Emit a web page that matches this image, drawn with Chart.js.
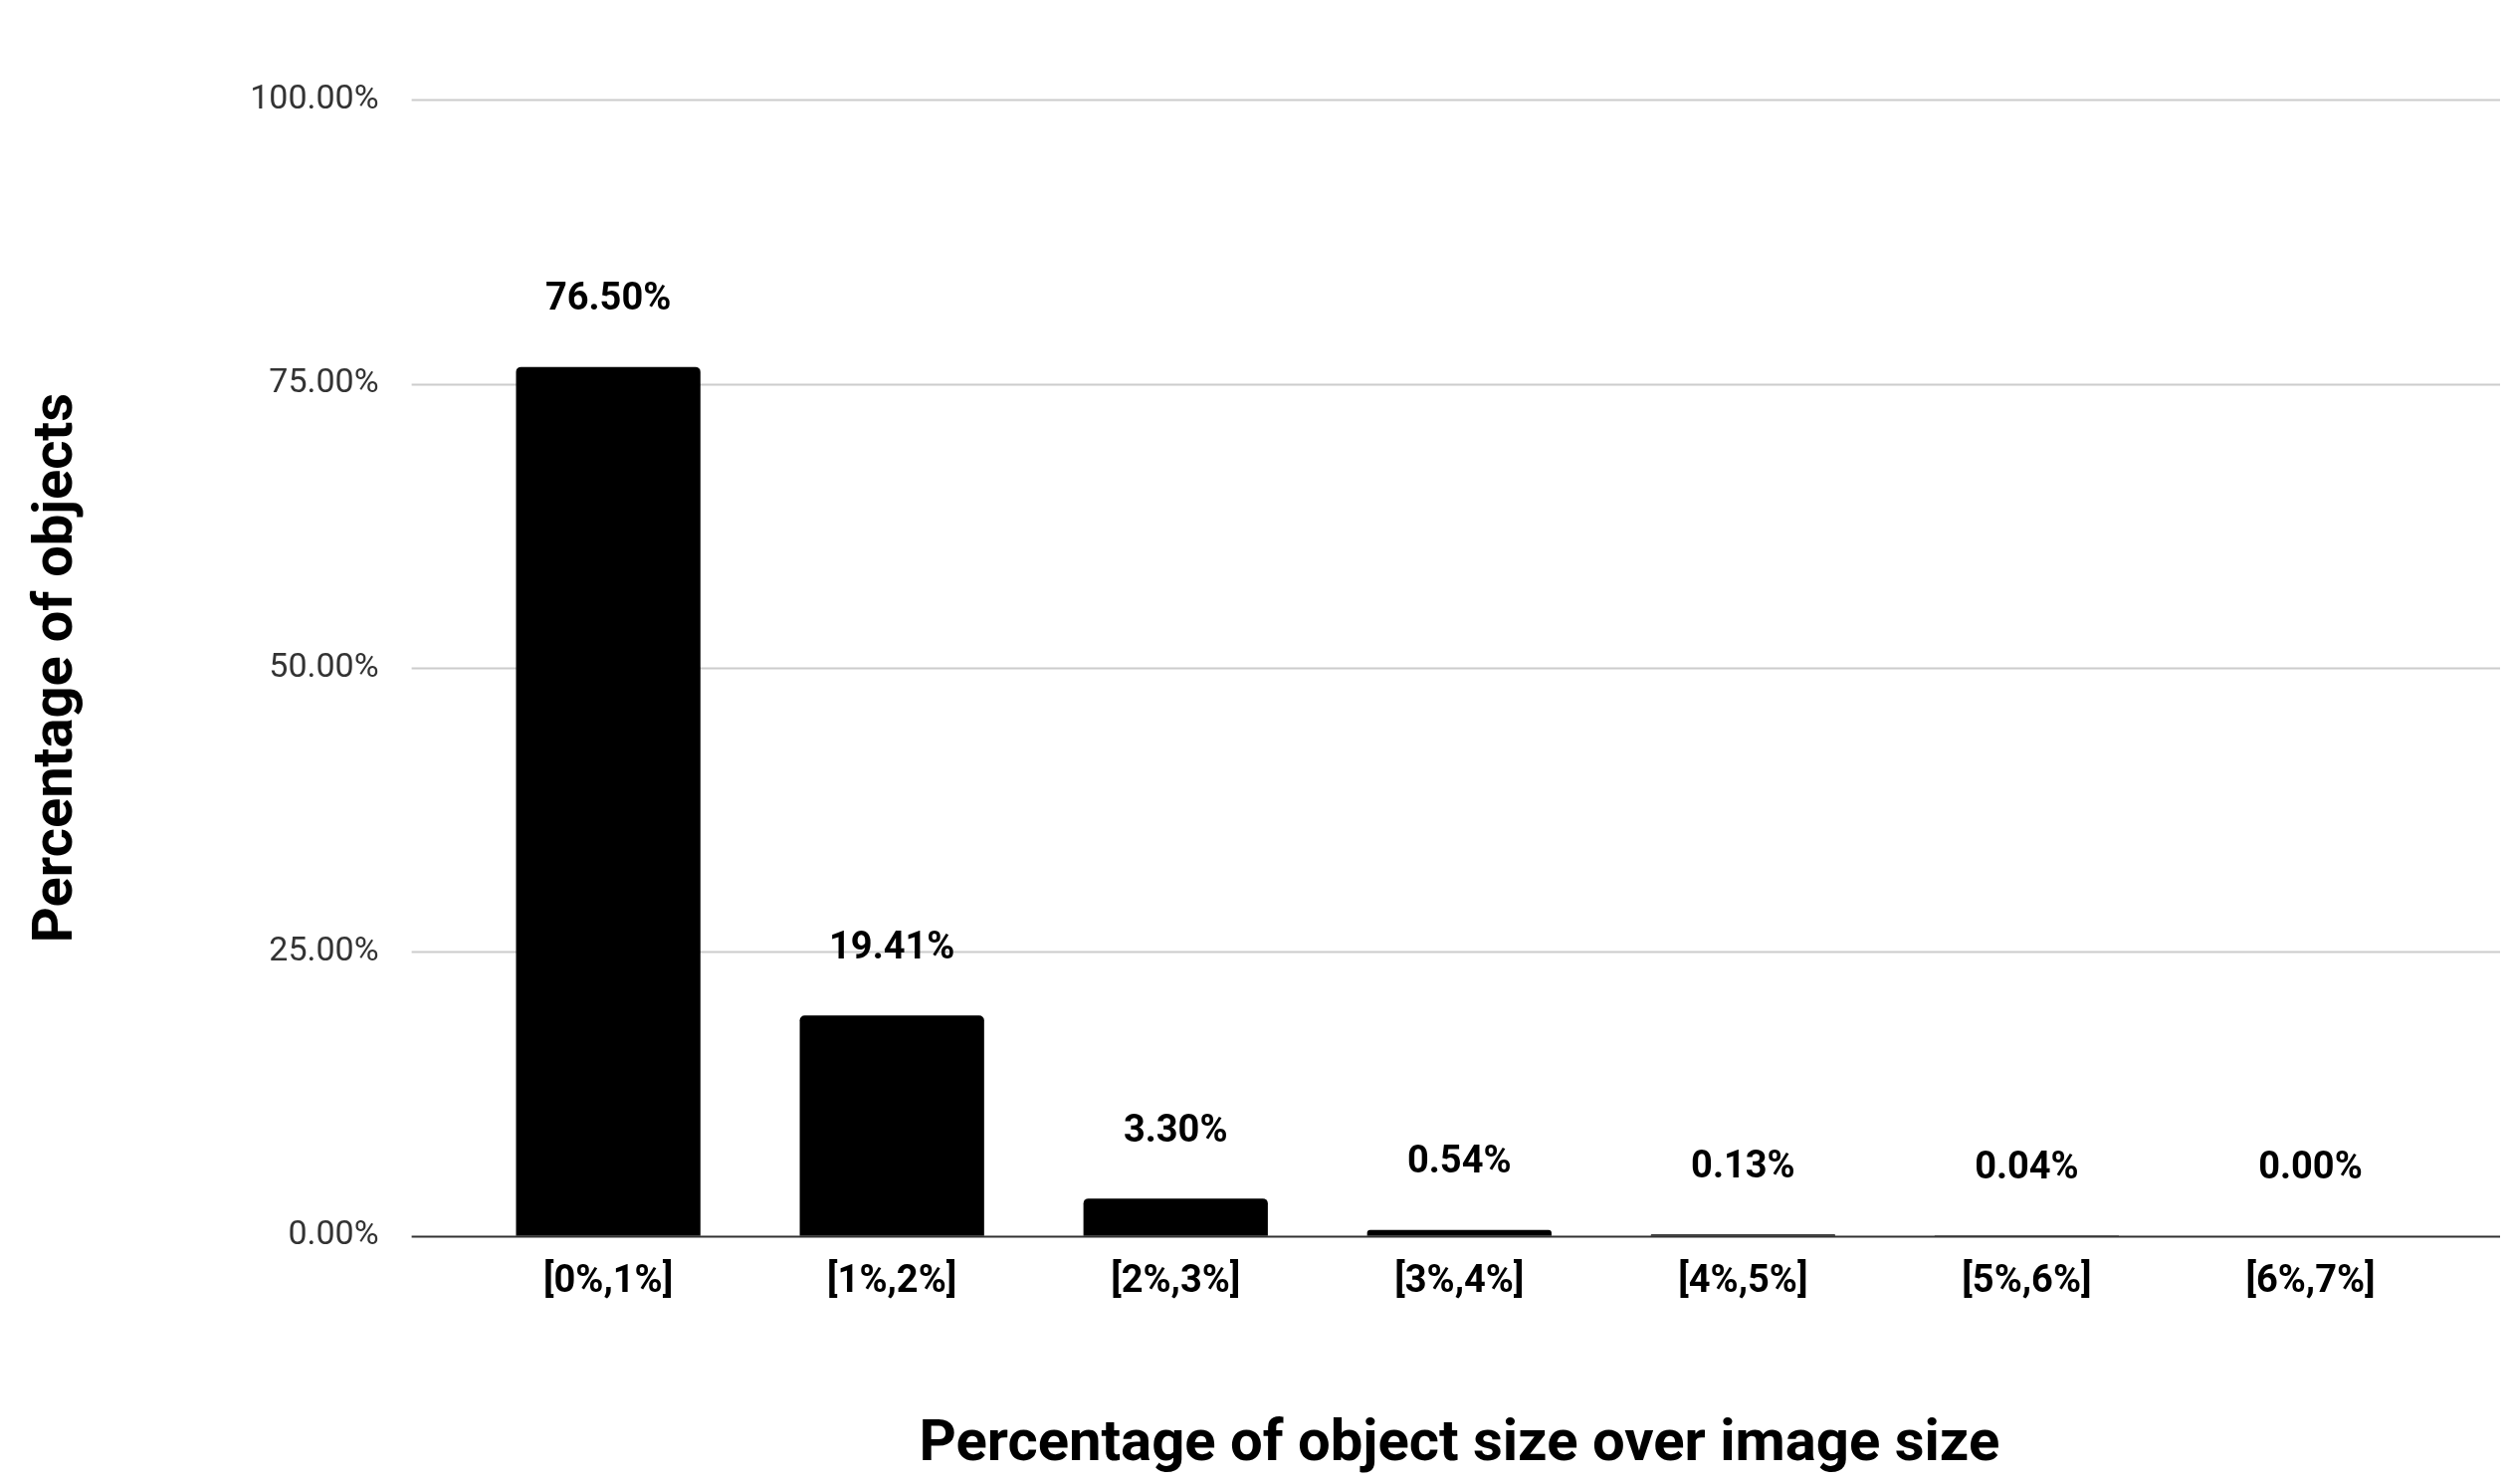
<!DOCTYPE html>
<html>
<head>
<script src="https://cdn.jsdelivr.net/npm/chart.js"></script>
<style>
  body { margin: 0; background: #fff; }
  #wrap { width: 2524px; height: 1491px; }
</style>
</head>
<body>
<div id="wrap"><canvas id="myChart"></canvas></div>
<script>
var categories = ['[0%,1%]', '[1%,2%]', '[2%,3%]', '[3%,4%]', '[4%,5%]', '[5%,6%]', '[6%,7%]'];
var values = [76.50, 19.41, 3.30, 0.54, 0.13, 0.04, 0.00];
var yTicks = [0, 25, 50, 75, 100];

// gridlines run a bit past the category area on both sides
var wideGrid = {
  id: 'wideGrid',
  beforeDatasetsDraw: function(chart) {
    var ctx = chart.ctx, a = chart.chartArea, y = chart.scales.y;
    ctx.save();
    yTicks.forEach(function(v) {
      var py = Math.round(y.getPixelForValue(v)) + 0.5;
      ctx.beginPath();
      ctx.strokeStyle = v === 0 ? '#333' : '#cccccc';
      ctx.lineWidth = 2;
      ctx.moveTo(a.left - 55, py);
      ctx.lineTo(a.right + 48, py);
      ctx.stroke();
    });
    ctx.restore();
  }
};

// value labels above each bar
var barLabels = {
  id: 'barLabels',
  afterDatasetsDraw: function(chart) {
    var ctx = chart.ctx;
    var meta = chart.getDatasetMeta(0);
    ctx.save();
    ctx.font = 'bold 38px Roboto';
    ctx.fillStyle = '#000';
    ctx.textAlign = 'center';
    ctx.textBaseline = 'bottom';
    meta.data.forEach(function(bar, i) {
      ctx.fillText(values[i].toFixed(2) + '%', bar.x, bar.y - 48);
    });
    ctx.restore();
  }
};

new Chart(document.getElementById('myChart'), {
  type: 'bar',
  data: {
    labels: categories,
    datasets: [{
      data: values,
      backgroundColor: '#000',
      borderRadius: 5,
      borderSkipped: 'bottom',
      barPercentage: 0.65,
      categoryPercentage: 1.0
    }]
  },
  options: {
    responsive: true,
    maintainAspectRatio: false,
    animation: false,
    layout: { padding: { top: 18, right: 60, left: 20, bottom: 0 } },
    plugins: { legend: { display: false }, tooltip: { enabled: false } },
    scales: {
      x: {
        grid: { display: false },
        border: { display: false },
        ticks: { color: '#000', font: { family: 'Roboto', size: 38, weight: 'bold' }, padding: 16 },
        title: { display: true, text: 'Percentage of object size over image size', color: '#000',
                 font: { family: 'Roboto', size: 58, weight: 'bold' }, padding: { top: 90 } }
      },
      y: {
        min: 0, max: 100,
        afterBuildTicks: function(axis) { axis.ticks = yTicks.map(function(v) { return { value: v }; }); },
        grid: { display: false },
        border: { display: false },
        ticks: { color: '#333', font: { family: 'Roboto', size: 34 }, padding: 80,
                 callback: function(v) { return v.toFixed(2) + '%'; } },
        title: { display: true, text: 'Percentage of objects', color: '#000',
                 font: { family: 'Roboto', size: 56, weight: 'bold' }, padding: { bottom: 80 } }
      }
    }
  },
  plugins: [wideGrid, barLabels]
});
</script>
</body>
</html>
